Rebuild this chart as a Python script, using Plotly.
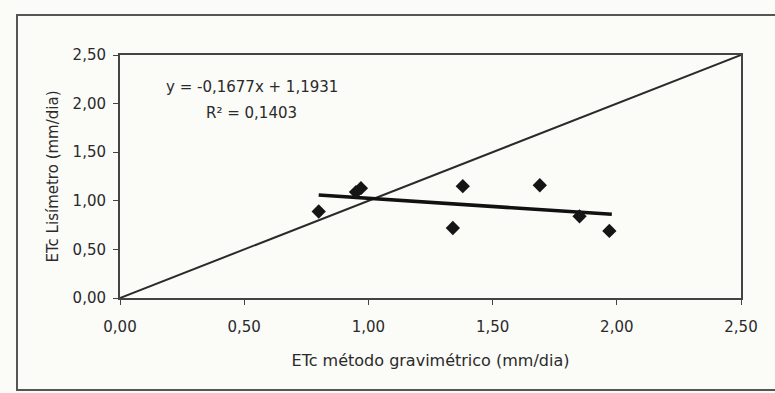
import plotly.graph_objects as go

# Measured crop evapotranspiration: gravimetric method (x) vs lysimeter (y), mm/day
etc_gravimetrico = [0.80, 0.95, 0.97, 1.34, 1.38, 1.69, 1.85, 1.97]
etc_lisimetro = [0.89, 1.09, 1.13, 0.72, 1.15, 1.16, 0.84, 0.69]

# Linear fit reported on the chart
slope = -0.1677
intercept = 1.1931
r2 = 0.1403
fit_x = [0.80, 1.98]
fit_y = [slope * v + intercept for v in fit_x]

# 1:1 reference line
ref_x = [0.0, 2.5]
ref_y = [0.0, 2.5]

tick_vals = [0.0, 0.5, 1.0, 1.5, 2.0, 2.5]
tick_text = ["0,00", "0,50", "1,00", "1,50", "2,00", "2,50"]

ink = "#2a2a2a"
font_family = "DejaVu Sans, Arial, sans-serif"

fig = go.Figure()
fig.add_trace(go.Scatter(x=ref_x, y=ref_y, mode="lines",
                         line=dict(color=ink, width=2), hoverinfo="skip"))
fig.add_trace(go.Scatter(x=fit_x, y=fit_y, mode="lines",
                         line=dict(color="#111111", width=3.5), hoverinfo="skip"))
fig.add_trace(go.Scatter(x=etc_gravimetrico, y=etc_lisimetro, mode="markers",
                         marker=dict(symbol="diamond", size=11, color="#151515")))

eq_text = f"y = {slope:.4f}x + {intercept:.4f}".replace(".", ",")
r2_text = f"R² = {r2:.4f}".replace(".", ",")

fig.add_annotation(x=0.53, y=2.17, xref="x", yref="y", text=eq_text,
                   showarrow=False, font=dict(size=15, color=ink, family=font_family))
fig.add_annotation(x=0.53, y=1.90, xref="x", yref="y", text=r2_text,
                   showarrow=False, font=dict(size=15, color=ink, family=font_family))

# outer chart frame
fig.add_shape(type="rect", xref="paper", yref="paper",
              x0=-103 / 621, x1=1.06, y0=-92 / 243, y1=1 + 40 / 243,
              line=dict(color="#555555", width=2), layer="below")

axis_common = dict(
    range=[0, 2.5], tickvals=tick_vals, ticktext=tick_text,
    showgrid=False, zeroline=False, showline=True, linecolor="#444444",
    linewidth=2, mirror=True, ticks="outside", ticklen=5, tickcolor="#444444",
    tickfont=dict(size=15, color=ink, family=font_family),
)

fig.update_layout(
    width=775, height=393,
    margin=dict(l=120, r=34, t=55, b=95),
    paper_bgcolor="#fbfbf8", plot_bgcolor="#fbfbf8",
    showlegend=False,
    font=dict(family=font_family, color=ink),
    xaxis=dict(**axis_common,
               title=dict(text="ETc método gravimétrico (mm/dia)",
                          font=dict(size=16, color=ink), standoff=20),
               ticklabelstandoff=9),
    yaxis=dict(**axis_common,
               title=dict(text="ETc Lisímetro (mm/dia)",
                          font=dict(size=15, color=ink), standoff=10),
               ticklabelstandoff=4),
)

fig.write_html("out.html")
